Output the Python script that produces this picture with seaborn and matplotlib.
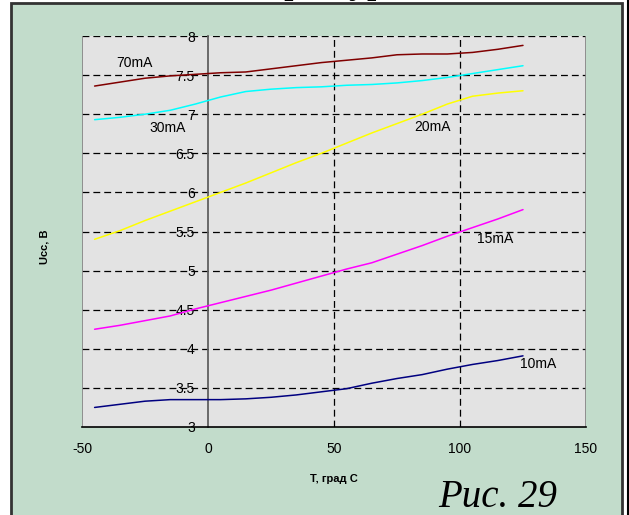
import numpy as np
import pandas as pd
import seaborn as sns
import matplotlib.pyplot as plt
from matplotlib.patches import Rectangle

# temperature points, grad C
temp = [-45, -35, -25, -15, -5, 5, 15, 25, 35, 45, 55, 65, 75, 85, 95, 105, 115, 125]

u_70 = [7.36, 7.41, 7.46, 7.49, 7.51, 7.53, 7.54, 7.58, 7.62, 7.66, 7.69, 7.72, 7.76, 7.77, 7.77, 7.79, 7.83, 7.88]
u_30 = [6.93, 6.96, 7.00, 7.05, 7.13, 7.22, 7.29, 7.32, 7.34, 7.35, 7.37, 7.38, 7.40, 7.43, 7.47, 7.52, 7.57, 7.62]
u_20 = [5.40, 5.51, 5.64, 5.76, 5.88, 6.00, 6.12, 6.25, 6.38, 6.50, 6.63, 6.76, 6.88, 7.00, 7.13, 7.23, 7.27, 7.30]
u_15 = [4.25, 4.30, 4.36, 4.42, 4.51, 4.59, 4.67, 4.75, 4.84, 4.93, 5.02, 5.10, 5.21, 5.32, 5.44, 5.55, 5.66, 5.78]
u_10 = [3.25, 3.29, 3.33, 3.35, 3.35, 3.35, 3.36, 3.38, 3.41, 3.45, 3.49, 3.56, 3.62, 3.67, 3.74, 3.80, 3.85, 3.91]

currents = ['70mA', '30mA', '20mA', '15mA', '10mA']
colors = {'70mA': '#800000', '30mA': '#00ffff', '20mA': '#ffff00',
          '15mA': '#ff00ff', '10mA': '#000080'}
# where the curve names sit (T, U)
label_pos = {'70mA': (-29, 7.65), '30mA': (-16, 6.82), '20mA': (89, 6.84),
             '15mA': (114, 5.40), '10mA': (131, 3.81)}

df = pd.DataFrame({'T': temp * 5,
                   'U': u_70 + u_30 + u_20 + u_15 + u_10,
                   'I': sum([[c] * len(temp) for c in currents], [])})

sns.set_style('white')
plt.rcParams['font.family'] = ['Liberation Sans', 'DejaVu Sans']
plt.rcParams['text.color'] = 'black'
plt.rcParams['axes.unicode_minus'] = False

fig = plt.figure(figsize=(6.29, 5.15), dpi=100)
fig.patch.set_facecolor('white')

# background axes: green panel with dark frame
bg = fig.add_axes([0, 0, 1, 1], zorder=0)
bg.set_xlim(0, 629)
bg.set_ylim(515, 0)
bg.axis('off')
bg.add_patch(Rectangle((11, 3), 611, 520, facecolor='#c2dccb',
                       edgecolor='#333333', lw=2))
bg.plot([627.5, 627.5], [0, 515], color='black', lw=1.5)

ax = fig.add_axes([82 / 629, 88 / 515, 504 / 629, 391 / 515], zorder=1)
ax.set_facecolor('#e3e3e3')

sns.lineplot(data=df, x='T', y='U', hue='I', palette=colors, legend=False,
             lw=1.1, ax=ax, zorder=3)

ax.set_xlim(-50, 150)
ax.set_ylim(3, 8)
ax.set_xticks([-50, 0, 50, 100, 150])
ax.set_yticks([3, 3.5, 4, 4.5, 5, 5.5, 6, 6.5, 7, 7.5, 8])
ax.set_yticklabels(['3', '3.5', '4', '4.5', '5', '5.5', '6', '6.5', '7', '7.5', '8'])

dash = (0, (5.5, 3.2))
for y in [3.5, 4, 4.5, 5, 5.5, 6, 6.5, 7, 7.5, 8]:
    ax.axhline(y, color='black', lw=0.9, ls=dash, zorder=1)
for x in [50, 100]:
    ax.axvline(x, color='black', lw=0.9, ls=dash, zorder=1)
for x in [-50, 150]:
    ax.axvline(x, color='#808080', lw=1.2, zorder=1)

for s in ['top', 'right']:
    ax.spines[s].set_visible(False)
ax.spines['left'].set_position(('data', 0))
ax.spines['left'].set_color('#606060')
ax.spines['left'].set_linewidth(1.3)
ax.spines['bottom'].set_color('black')
ax.spines['bottom'].set_linewidth(1.2)

ax.tick_params(axis='both', direction='inout', length=7, width=1.2, color='black',
               labelsize=10, labelcolor='black')
ax.tick_params(axis='y', pad=6)
ax.tick_params(axis='x', pad=7)

for c in currents:
    tx, ty = label_pos[c]
    ax.text(tx, ty, c, fontsize=10, ha='center', va='center', color='black', zorder=4)

ax.set_xlabel('Т, град С', fontsize=8, fontweight='bold', color='black')
ax.set_ylabel('Ucc, В', fontsize=8, fontweight='bold', color='black')
ax.xaxis.set_label_coords(0.5, -0.12)
ax.yaxis.set_label_coords(-0.065, 0.46)

fig.text(438 / 629, 8 / 515, 'Рис. 29', fontsize=28, style='italic', color='black',
         family='Liberation Serif', va='baseline', ha='left', zorder=5)
fig.text(182 / 629, 1 + 8 / 515, 'температуры', fontsize=28, style='italic', color='black',
         family='Liberation Serif', va='baseline', ha='left', zorder=5)

fig.savefig('out.png', dpi=100)
